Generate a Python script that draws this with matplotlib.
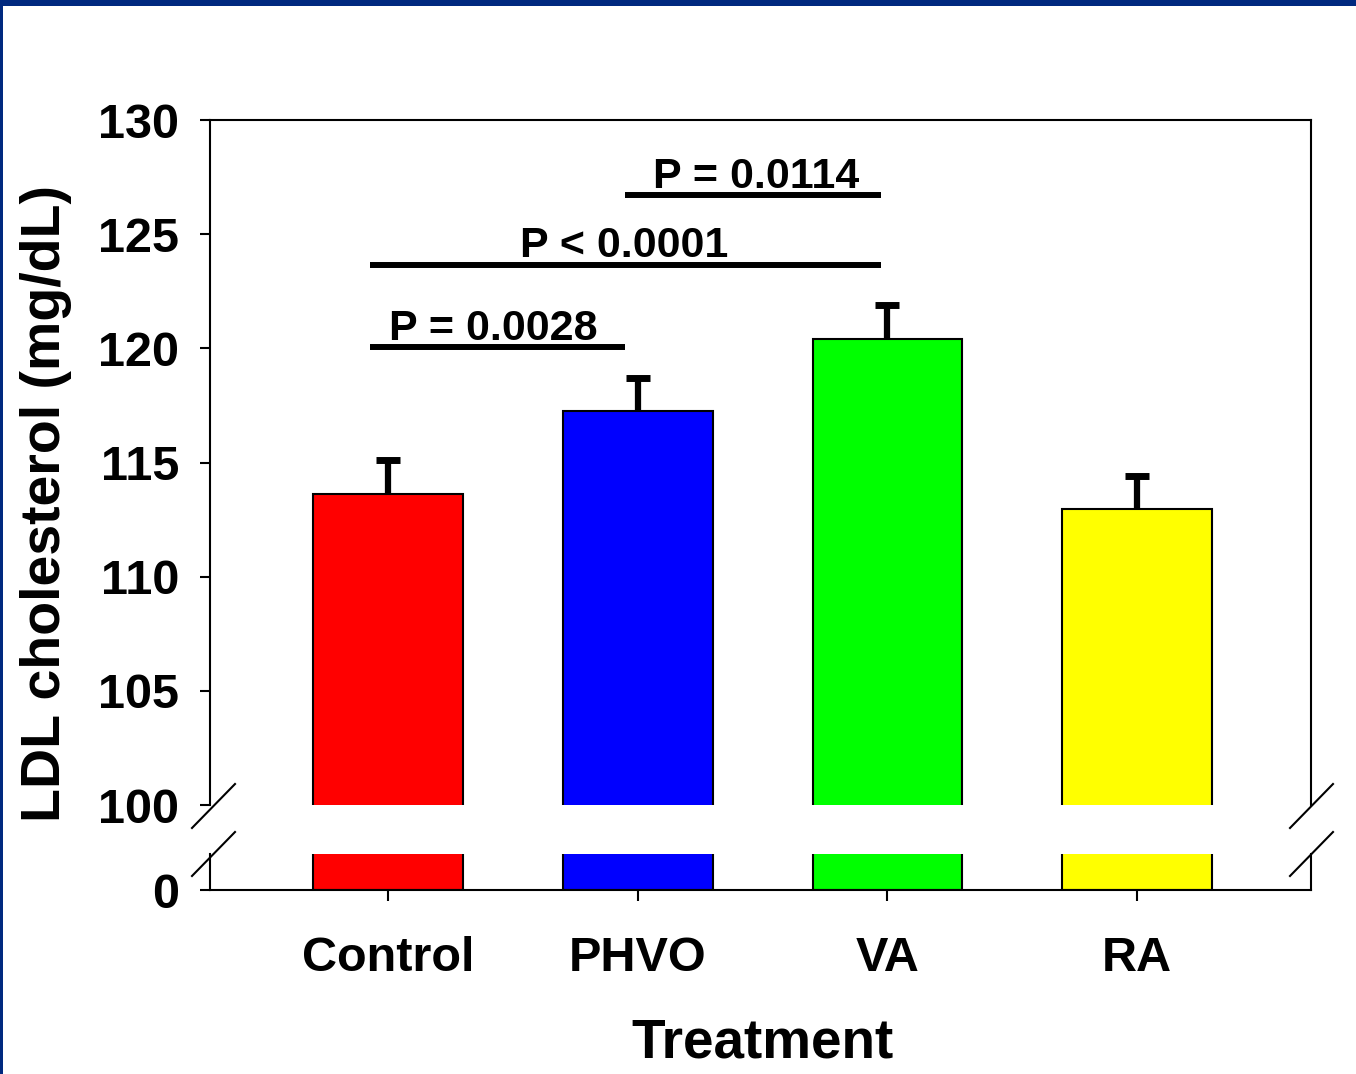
import matplotlib
matplotlib.use("Agg")
import matplotlib.pyplot as plt
from matplotlib.lines import Line2D
from matplotlib.patches import Rectangle

# data
categories = ["Control", "PHVO", "VA", "RA"]
ldl_means = [113.6, 117.25, 120.4, 112.95]
ldl_sem = [1.5, 1.45, 1.5, 1.45]
bar_colors = ["#ff0000", "#0000ff", "#00ff00", "#ffff00"]

# significance brackets
p_labels = ["P = 0.0028", "P < 0.0001", "P = 0.0114"]
bracket_y = [120.05, 123.65, 126.7]
bracket_from = [-0.072, -0.072, 0.95]
bracket_to = [0.95, 1.974, 1.974]
label_x = [0.42, 0.945, 1.474]

plt.rcParams["font.family"] = ["Liberation Sans", "DejaVu Sans"]
plt.rcParams["font.weight"] = "bold"

W, H = 1356, 1074
fig = plt.figure(figsize=(W / 100, H / 100), dpi=100)

def fx(px):
    return px / W

def fy(py):
    return 1 - py / H

ax_left, ax_right = 210, 1311
top = fig.add_axes([fx(ax_left), fy(805), fx(ax_right - ax_left), fy(120) - fy(805)])
bot = fig.add_axes([fx(ax_left), fy(890), fx(ax_right - ax_left), fy(854) - fy(890)])

x = list(range(len(categories)))
for ax in (top, bot):
    ax.bar(x, ldl_means, width=0.6, color=bar_colors, edgecolor="black", linewidth=1.5, zorder=2)
    ax.set_xlim(-0.713, 3.696)
    for s in ax.spines.values():
        s.set_linewidth(1.5)

# only upper error bars, cap on the top end only
top.errorbar(x, ldl_means, yerr=[[0] * 4, ldl_sem], fmt="none", ecolor="black",
             elinewidth=4.5, capsize=0, zorder=3)
tips = [m + e for m, e in zip(ldl_means, ldl_sem)]
top.plot(x, tips, ls="none", marker="_", markersize=16.6, mew=5, color="black", zorder=3)

top.set_ylim(100, 130)
top.set_yticks([100, 105, 110, 115, 120, 125, 130])
top.spines["bottom"].set_visible(False)
top.tick_params(axis="x", bottom=False, labelbottom=False)
top.tick_params(axis="y", direction="out", length=7, width=1.5, pad=15, labelsize=35)

bot.set_ylim(0, 1)
bot.set_yticks([0])
bot.spines["top"].set_visible(False)
bot.set_xticks(x)
bot.set_xticklabels(categories)
bot.tick_params(axis="x", direction="out", length=8, width=1.5, pad=25, labelsize=35)
bot.tick_params(axis="y", direction="out", length=7, width=1.5, pad=15, labelsize=35)

# significance bars and p-values
for x0, x1, yv, lx, label in zip(bracket_from, bracket_to, bracket_y, label_x, p_labels):
    top.plot([x0, x1], [yv, yv], color="black", lw=4.3, solid_capstyle="butt", clip_on=False)
    top.text(lx, yv + 0.33, label, ha="center", va="baseline", fontsize=31, fontweight="bold")

# axis break marks
for xc in (213, 1311):
    for yc in (806, 854):
        fig.add_artist(Line2D([fx(xc - 21), fx(xc + 22)], [fy(yc + 22), fy(yc - 22)],
                              color="black", lw=1.5))

fig.text(fx(46), fy(504), "LDL cholesterol (mg/dL)", rotation=90, ha="center",
         va="center", fontsize=40, fontweight="bold")
fig.text(fx(762), fy(1044), "Treatment", ha="center", va="center",
         fontsize=39.5, fontweight="bold")

# slide border
navy = "#00297f"
fig.add_artist(Rectangle((0, fy(6)), 1, fy(0) - fy(6), transform=fig.transFigure,
                         color=navy, lw=0))
fig.add_artist(Rectangle((0, 0), fx(2.5), 1, transform=fig.transFigure,
                         color=navy, lw=0))

fig.savefig("out.png", dpi=100)
